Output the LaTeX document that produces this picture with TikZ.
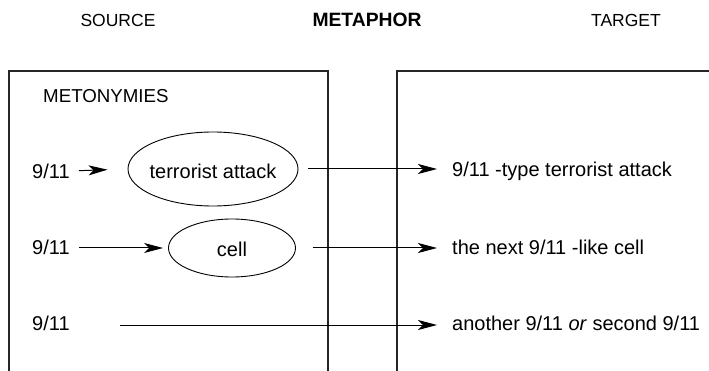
\documentclass[tikz,border=0pt]{standalone}
\usepackage{fontspec}
\setmainfont{Liberation Sans}
\usetikzlibrary{shapes.geometric,arrows.meta}
\tikzset{
  frame/.style={line width=1.1pt, draw=black!85},
  lbl/.style={inner sep=0pt, font=\fontsize{20}{24}\selectfont},
  head/.style={inner sep=0pt, font=\fontsize{17.5}{21}\selectfont},
  oval/.style={draw, ellipse, line width=0.9pt, inner sep=0pt},
  link/.style={line width=1pt, -{Stealth[length=19pt,width=10pt,inset=5pt]}},
  plain/.style={line width=1pt}
}
\begin{document}
\begin{tikzpicture}[x=1pt,y=-1pt]
\useasboundingbox (0,0) rectangle (709,371);
% column headings
\node[head] (src) at (118,20) {SOURCE};
\node[head, font=\fontsize{19.3}{23}\selectfont\bfseries] (met) at (367,20) {METAPHOR};
\node[head] (tgt) at (626,20) {TARGET};
% the two domains, open below
\draw[frame] (9,371) -- (9,71) -- (328,71) -- (328,371);
\draw[frame] (397,371) -- (397,71) -- (709,71);
\node[head, anchor=west, font=\fontsize{18.7}{22}\selectfont] (mty) at (43,96) {METONYMIES};
% source side
\node[lbl, anchor=west] (s1) at (32,171) {9/11};
\node[lbl, anchor=west] (s2) at (32,247) {9/11};
\node[lbl, anchor=west] (s3) at (32,323) {9/11};
\node[oval, minimum width=170pt, minimum height=74pt,
      label={[lbl, yshift=-2pt]center:terrorist attack}] (e1) at (213,169) {};
\node[oval, minimum width=127pt, minimum height=58pt,
      label={[lbl, yshift=-1pt]center:cell}] (e2) at (232,248) {};
% target side
\node[lbl, anchor=west] (t1) at (452,171) {9/11 -type terrorist attack};
\node[lbl, anchor=west] (t2) at (452,247) {the next 9/11 -like cell};
\node[lbl, anchor=west] (t3) at (452,323) {another 9/11 \textit{or} second 9/11};
% mappings
\draw[link, shorten <=9pt, shorten >=20pt] (s1.east) -- (e1.west);
\draw[link, shorten <=9pt, shorten >=5pt] (s2.east |- e2.west) -- (e2.west);
\draw[link, shorten <=10pt, shorten >=15pt] (e1.east) -- (e1.east -| t1.west);
\draw[link, shorten <=17pt, shorten >=15pt] (e2.east) -- (e2.east -| t2.west);
\draw[link, shorten <=50pt, shorten >=15pt] ([yshift=-2pt]s3.east) -- ([yshift=-2pt]t3.west);
\end{tikzpicture}
\end{document}
